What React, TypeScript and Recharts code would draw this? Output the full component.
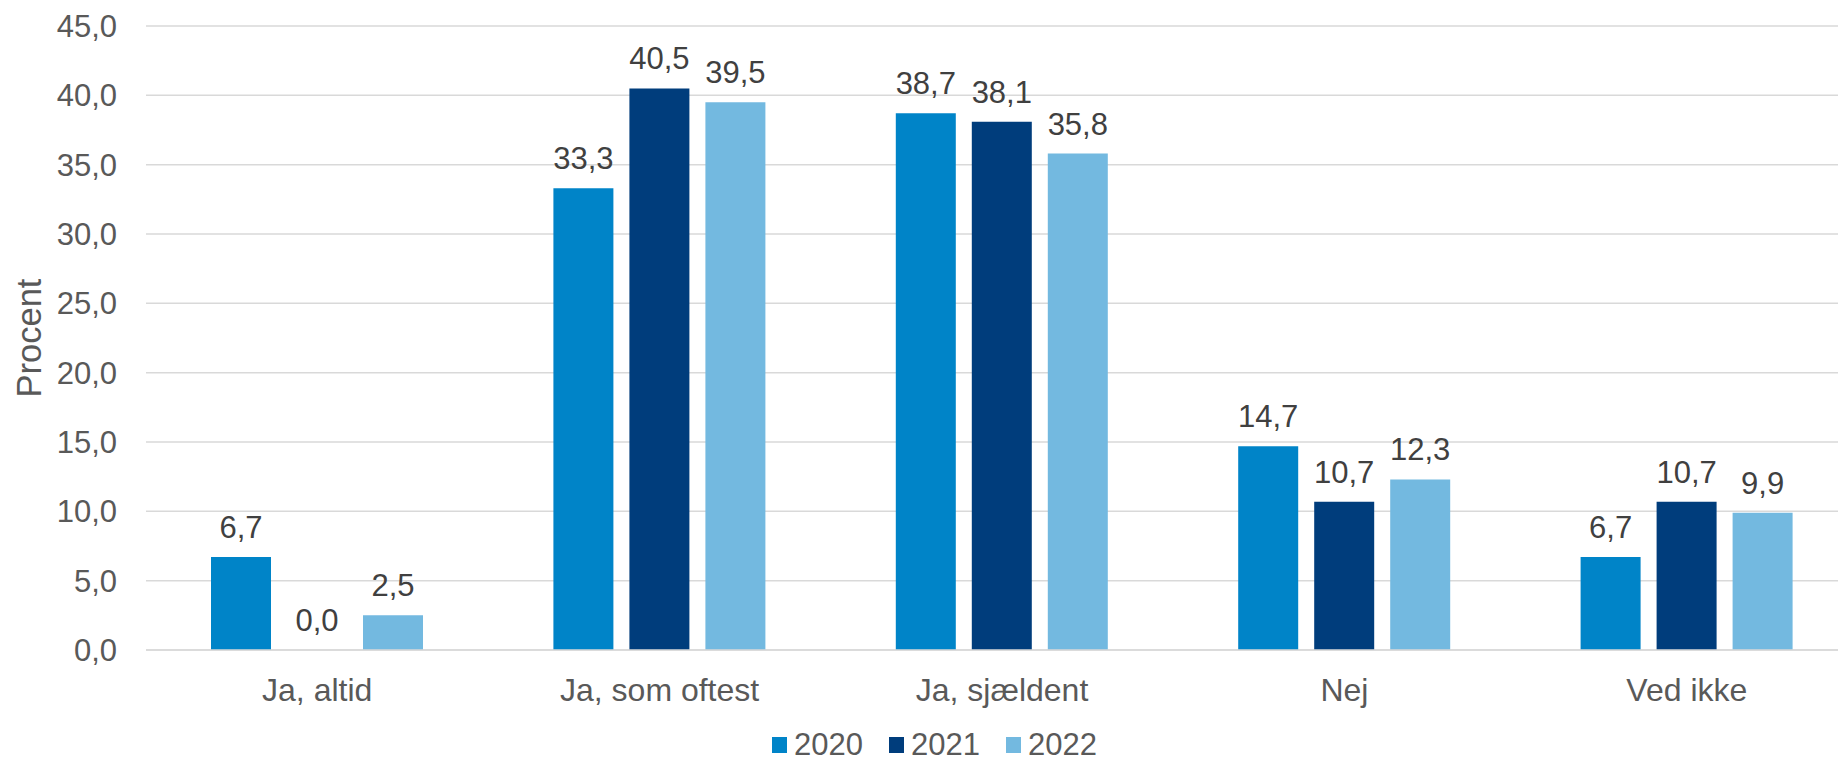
import { BarChart, Bar, XAxis, YAxis, CartesianGrid, LabelList, Legend } from "recharts";

const categories = ["Ja, altid", "Ja, som oftest", "Ja, sjældent", "Nej", "Ved ikke"];
const values2020 = [6.7, 33.3, 38.7, 14.7, 6.7];
const values2021 = [0.0, 40.5, 38.1, 10.7, 10.7];
const values2022 = [2.5, 39.5, 35.8, 12.3, 9.9];
const yTicks = [0, 5, 10, 15, 20, 25, 30, 35, 40, 45];

const series = [
  { key: "y2020", name: "2020", color: "#0084C8" },
  { key: "y2021", name: "2021", color: "#003D7C" },
  { key: "y2022", name: "2022", color: "#73B9E0" },
];

const data = categories.map((c, i) => ({
  name: c,
  y2020: values2020[i],
  y2021: values2021[i],
  y2022: values2022[i],
}));

const FONT = "'Liberation Sans', Arial, sans-serif";
const fmt = (v: any) => Number(v).toFixed(1).replace(".", ",");

// draws value above bar, also for zero-height bars
const ValueLabel = (props: any) => {
  const { x, y, width, value } = props;
  if (value == null) return null;
  return (
    <text
      x={Number(x) + Number(width) / 2}
      y={Number(y) - 19}
      textAnchor="middle"
      fontSize={31}
      fill="#404040"
      fontFamily={FONT}
    >
      {fmt(value)}
    </text>
  );
};

function LegendContent() {
  return (
    <div style={{ display: "flex", alignItems: "center", height: 30, fontFamily: FONT, whiteSpace: "nowrap" }}>
      {series.map((s) => (
        <div key={s.key} style={{ display: "flex", alignItems: "center", marginRight: 26 }}>
          <span style={{ display: "inline-block", width: 15, height: 16, background: s.color }} />
          <span style={{ marginLeft: 7, fontSize: 31, lineHeight: "30px", color: "#595959" }}>{s.name}</span>
        </div>
      ))}
    </div>
  );
}

export default function App() {
  return (
    <div style={{ position: "absolute", top: 0, left: 0, width: 1838, height: 761, overflow: "hidden", background: "#fff" }}>
      <BarChart
        width={1858}
        height={761}
        data={data}
        margin={{ top: 26, right: 0, left: 0, bottom: 51 }}
        barGap={16}
        style={{ fontFamily: FONT }}
      >
        <CartesianGrid vertical={false} stroke="#D9D9D9" strokeWidth={1.5} />
        <XAxis
          dataKey="name"
          height={60}
          tickLine={false}
          tickSize={0}
          tickMargin={28}
          axisLine={{ stroke: "#D9D9D9", strokeWidth: 1.5 }}
          tick={{ fontSize: 32, fill: "#595959" }}
        />
        <YAxis
          width={146}
          domain={[0, 45]}
          ticks={yTicks}
          tickFormatter={fmt}
          axisLine={false}
          tickLine={false}
          tickSize={0}
          tickMargin={29}
          tick={{ fontSize: 31, fill: "#595959" }}
          label={{ value: "Procent", angle: -90, position: "center", dx: -44, fontSize: 34.5, fill: "#595959" }}
        />
        <Legend
          layout="horizontal"
          verticalAlign="middle"
          align="center"
          wrapperStyle={{ top: 730, left: 772, width: 440 }}
          content={() => <LegendContent />}
        />
        {series.map((s) => (
          <Bar
            key={s.key}
            dataKey={s.key}
            name={s.name}
            fill={s.color}
            barSize={60}
            minPointSize={(v: any) => (Number(v) === 0 ? 0.01 : 0)}
            isAnimationActive={false}
          >
            <LabelList dataKey={s.key} content={ValueLabel} />
          </Bar>
        ))}
      </BarChart>
    </div>
  );
}
